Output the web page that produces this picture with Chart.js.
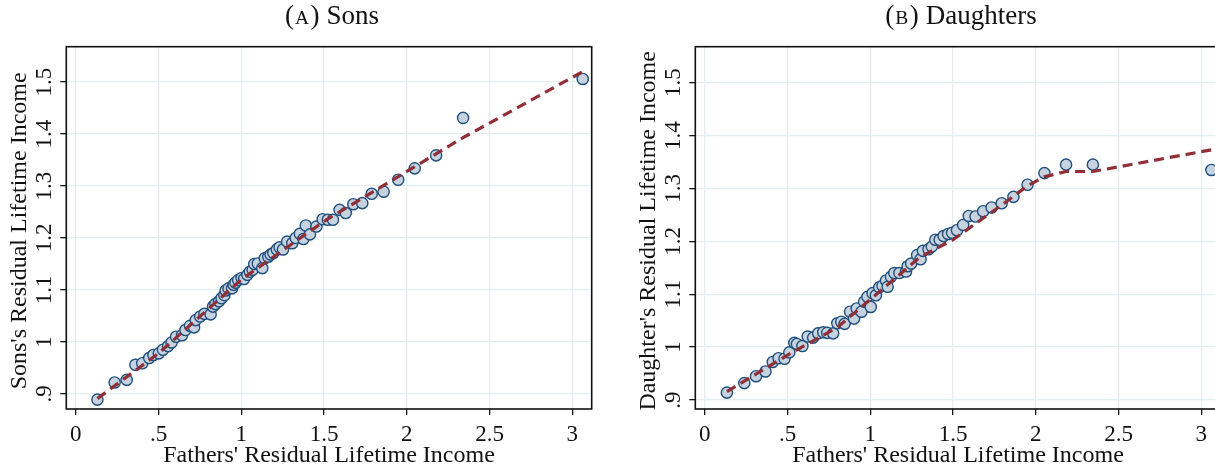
<!DOCTYPE html>
<html>
<head>
<meta charset="utf-8">
<script src="https://cdn.jsdelivr.net/npm/chart.js@4.4.1/dist/chart.umd.min.js"></script>
<style>
  html, body { margin: 0; padding: 0; background: #fff; overflow: hidden; }
  #wrap { position: relative; width: 1215px; height: 472px; overflow: hidden; }
  canvas { position: absolute; top: 0; }
</style>
</head>
<body>
<div id="wrap">
  <canvas id="sons" width="607" height="472" style="left:0px"></canvas>
  <canvas id="daughters" width="607" height="472" style="left:629px"></canvas>
</div>
<script>
// axis ticks shared by both panels
const xTicks = [0, 0.5, 1, 1.5, 2, 2.5, 3];
const yTicks = [0.9, 1, 1.1, 1.2, 1.3, 1.4, 1.5];

// sons: binned means
const sonsX = [0.131, 0.235, 0.308, 0.360, 0.402, 0.444, 0.469, 0.502, 0.527, 0.558,
  0.579, 0.606, 0.642, 0.663, 0.690, 0.715, 0.725, 0.752, 0.777, 0.815,
  0.829, 0.844, 0.865, 0.881, 0.898, 0.906, 0.923, 0.944, 0.954, 0.965,
  0.981, 1.002, 1.017, 1.037, 1.052, 1.069, 1.079, 1.100, 1.127, 1.142,
  1.163, 1.177, 1.194, 1.215, 1.231, 1.252, 1.277, 1.308, 1.329, 1.354,
  1.375, 1.390, 1.415, 1.454, 1.492, 1.523, 1.554, 1.594, 1.631, 1.677,
  1.731, 1.788, 1.860, 1.948, 2.048, 2.177, 2.340, 3.063];
const sonsY = [0.889, 0.922, 0.927, 0.956, 0.959, 0.969, 0.975, 0.978, 0.985, 0.992,
  0.999, 1.010, 1.013, 1.023, 1.031, 1.028, 1.042, 1.049, 1.054, 1.053,
  1.068, 1.073, 1.078, 1.084, 1.090, 1.099, 1.103, 1.103, 1.110, 1.114,
  1.119, 1.123, 1.121, 1.129, 1.135, 1.139, 1.150, 1.151, 1.142, 1.161,
  1.164, 1.168, 1.171, 1.178, 1.182, 1.178, 1.193, 1.190, 1.200, 1.208,
  1.198, 1.224, 1.207, 1.222, 1.236, 1.235, 1.235, 1.254, 1.248, 1.265,
  1.267, 1.285, 1.289, 1.312, 1.334, 1.359, 1.431, 1.506];
// sons: fitted line
const sonsFitX = [0.131, 0.5, 1.0, 1.5, 2.0, 2.34, 3.063];
const sonsFitY = [0.891, 0.978, 1.120, 1.232, 1.328, 1.393, 1.520];

// daughters: binned means
const daughtersX = [0.134, 0.239, 0.310, 0.367, 0.411, 0.446, 0.482, 0.511, 0.541, 0.557,
  0.590, 0.622, 0.655, 0.685, 0.716, 0.740, 0.776, 0.801, 0.825, 0.845,
  0.878, 0.902, 0.918, 0.947, 0.963, 0.983, 1.003, 1.014, 1.034, 1.054,
  1.074, 1.095, 1.105, 1.125, 1.145, 1.176, 1.216, 1.226, 1.247, 1.283,
  1.304, 1.318, 1.352, 1.372, 1.393, 1.419, 1.443, 1.470, 1.494, 1.524,
  1.561, 1.595, 1.636, 1.682, 1.733, 1.794, 1.865, 1.950, 2.052, 2.183,
  2.345, 3.061];
const daughtersY = [0.914, 0.932, 0.945, 0.954, 0.972, 0.979, 0.978, 0.990, 1.008, 1.006,
  1.002, 1.020, 1.018, 1.026, 1.028, 1.027, 1.026, 1.045, 1.048, 1.044,
  1.067, 1.054, 1.073, 1.067, 1.086, 1.095, 1.076, 1.102, 1.098, 1.113,
  1.116, 1.126, 1.114, 1.133, 1.140, 1.140, 1.143, 1.153, 1.158, 1.174,
  1.166, 1.182, 1.185, 1.190, 1.203, 1.203, 1.210, 1.214, 1.216, 1.221,
  1.231, 1.248, 1.247, 1.257, 1.264, 1.272, 1.284, 1.307, 1.329, 1.345,
  1.345, 1.335];
// daughters: fitted line
const daughtersFitX = [0.134, 0.5, 0.8, 1.0, 1.3, 1.5, 1.8, 1.95, 2.052, 2.183, 2.345, 3.061];
const daughtersFitY = [0.916, 0.985, 1.037, 1.090, 1.170, 1.203, 1.270, 1.305, 1.322, 1.332, 1.332, 1.373];

const SERIF = '"Liberation Serif", "Times New Roman", serif';
const COLORS = {
  markerFill: '#c6d3df',
  markerEdge: '#1f4f7d',
  fit: '#902f38',
  grid: '#e4eef0',
  frame: '#111111',
  text: '#111111'
};

function fmt(v) {
  return String(+v.toFixed(2)).replace(/^0\./, '.');
}

function pairs(xs, ys) {
  return xs.map((x, i) => ({ x: x, y: ys[i] }));
}

// panel title, axis titles, rotated y labels and frame
const decorations = {
  id: 'decorations',
  afterDraw(chart, args, opts) {
    const { ctx, chartArea: a } = chart;
    const xs = chart.scales.x, ys = chart.scales.y;
    const midX = a.left + 525.4 / 2;
    ctx.save();
    ctx.fillStyle = COLORS.text;

    // frame
    ctx.strokeStyle = COLORS.frame;
    ctx.lineWidth = 1.6;
    ctx.strokeRect(a.left, a.top, a.right - a.left, a.bottom - a.top);

    // x tick labels
    ctx.font = '23px ' + SERIF;
    ctx.textAlign = 'center';
    ctx.textBaseline = 'alphabetic';
    xTicks.forEach(v => ctx.fillText(fmt(v), xs.getPixelForValue(v), a.bottom + 32));

    // y tick labels, rotated
    yTicks.forEach(v => {
      ctx.save();
      ctx.translate(a.left - 21, ys.getPixelForValue(v));
      ctx.rotate(-Math.PI / 2);
      ctx.textBaseline = 'middle';
      ctx.fillText(fmt(v), 0, 0);
      ctx.restore();
    });

    // axis titles
    ctx.font = '24px ' + SERIF;
    ctx.fillText(opts.xTitle, midX, a.bottom + 53);
    ctx.save();
    ctx.translate(a.left - 47, (a.top + a.bottom) / 2 + 3);
    ctx.rotate(-Math.PI / 2);
    ctx.textBaseline = 'middle';
    ctx.fillText(opts.yTitle, 0, 0);
    ctx.restore();

    // panel title with small-caps letter
    const parts = [['(', 27, 1], [opts.letter, 19.5, 1.5], [')', 27, 7], [opts.word, 27, 0]];
    let total = 0;
    parts.forEach(p => {
      ctx.font = p[1] + 'px ' + SERIF;
      p.push(ctx.measureText(p[0]).width);
      total += p[3] + p[2];
    });
    let x = midX - total / 2 + 3;
    ctx.textAlign = 'left';
    parts.forEach(p => {
      ctx.font = p[1] + 'px ' + SERIF;
      ctx.fillText(p[0], x, 24);
      x += p[3] + p[2];
    });
    ctx.restore();
  }
};

function makePanel(id, pts, fit, yMin, cfg) {
  return new Chart(document.getElementById(id), {
    type: 'scatter',
    data: {
      datasets: [
        {
          type: 'line',
          data: fit,
          borderColor: COLORS.fit,
          borderWidth: 3.2,
          borderDash: [10, 6],
          pointRadius: 0,
          fill: false,
          tension: 0,
          order: 0
        },
        {
          data: pts,
          backgroundColor: COLORS.markerFill,
          borderColor: COLORS.markerEdge,
          borderWidth: 1.4,
          pointRadius: 5.6,
          order: 1
        }
      ]
    },
    options: {
      responsive: false,
      animation: false,
      devicePixelRatio: 1,
      layout: { padding: { left: 0, top: 46.7, right: 15.3, bottom: 0 } },
      plugins: {
        legend: { display: false },
        tooltip: { enabled: false },
        decorations: cfg
      },
      scales: {
        x: {
          type: 'linear',
          min: -0.057,
          max: 3.117,
          afterBuildTicks: s => { s.ticks = xTicks.map(v => ({ value: v })); },
          afterFit: s => { s.height = 63; },
          ticks: { display: false },
          border: { display: false },
          grid: { color: COLORS.grid, lineWidth: 1.3, tickColor: COLORS.frame, tickLength: 6, tickWidth: 1.3 }
        },
        y: {
          type: 'linear',
          min: yMin,
          max: 1.568,
          afterBuildTicks: s => { s.ticks = yTicks.map(v => ({ value: v })); },
          afterFit: s => { s.width = 66.3; },
          ticks: { display: false },
          border: { display: false },
          grid: { color: COLORS.grid, lineWidth: 1.3, tickColor: COLORS.frame, tickLength: 6, tickWidth: 1.3 }
        }
      }
    },
    plugins: [decorations]
  });
}

makePanel('sons', pairs(sonsX, sonsY), pairs(sonsFitX, sonsFitY), 0.871, {
  letter: 'A', word: 'Sons',
  xTitle: "Fathers' Residual Lifetime Income",
  yTitle: "Sons's Residual Lifetime Income"
});

makePanel('daughters', pairs(daughtersX, daughtersY), pairs(daughtersFitX, daughtersFitY), 0.883, {
  letter: 'B', word: 'Daughters',
  xTitle: "Fathers' Residual Lifetime Income",
  yTitle: "Daughter's Residual Lifetime Income"
});
</script>
</body>
</html>
